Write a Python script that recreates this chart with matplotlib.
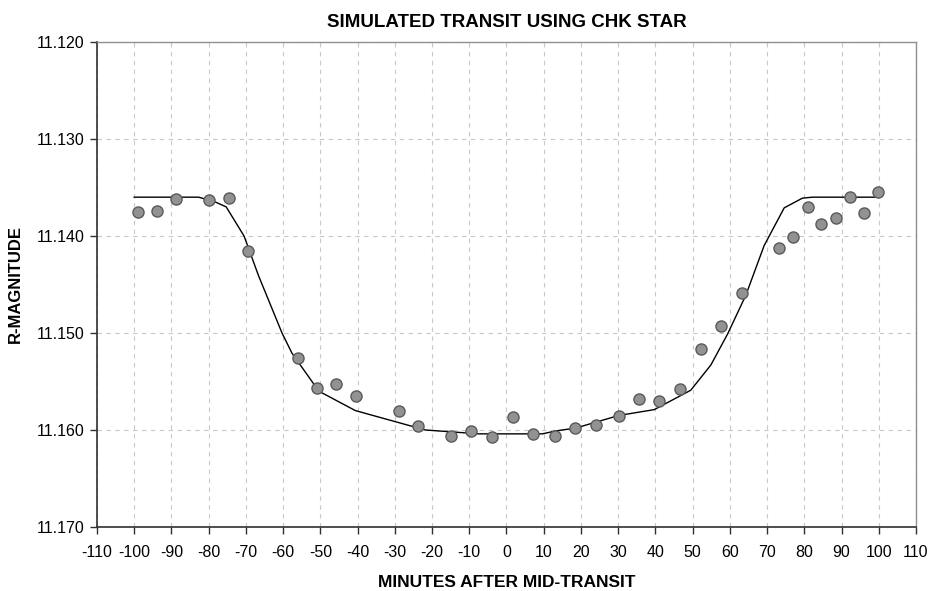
import matplotlib
matplotlib.use("Agg")
import matplotlib.pyplot as plt
import numpy as np

plt.rcParams['font.family'] = ['Liberation Sans', 'DejaVu Sans']

# observed R-magnitudes vs minutes after mid-transit
obs_min = [-99.1, -93.9, -88.7, -79.8, -74.6, -69.4, -56.1, -50.9, -45.7, -40.5,
           -28.9, -23.8, -14.8, -9.5, -3.8, 1.8, 7.2, 13.0, 18.5, 24.0,
           30.1, 35.6, 41.0, 46.5, 52.3, 57.7, 63.3, 73.3, 77.0, 80.9,
           84.6, 88.4, 92.4, 95.9, 99.7]
obs_mag = [11.1375, 11.1374, 11.1362, 11.1363, 11.1361, 11.1415, 11.1526, 11.1557, 11.1553, 11.1565,
           11.1580, 11.1596, 11.1606, 11.1601, 11.1607, 11.1587, 11.1604, 11.1606, 11.1598, 11.1595,
           11.1586, 11.1568, 11.1570, 11.1558, 11.1517, 11.1493, 11.1459, 11.1412, 11.1401, 11.1370,
           11.1388, 11.1381, 11.1360, 11.1376, 11.1355]

# model light curve
model_min = [-100.0, -82.7, -78.2, -75.3, -70.5, -66.6, -60.3, -57.6, -50.4, -40.6,
             -21.8, -7.4, 9.6, 13.2, 18.6, 30.2, 39.7, 49.5, 54.9, 59.4,
             64.3, 69.2, 74.6, 79.5, 82.2, 99.7]
model_mag = [11.1360, 11.1360, 11.1365, 11.1370, 11.1400, 11.1441, 11.1500, 11.1521, 11.1560, 11.1580,
             11.1600, 11.1604, 11.1604, 11.1601, 11.1598, 11.1585, 11.1579, 11.1559, 11.1533, 11.1501,
             11.1461, 11.1410, 11.1371, 11.1361, 11.1360, 11.1360]

x_ticks = np.arange(-110, 111, 10)
y_ticks = [11.120, 11.130, 11.140, 11.150, 11.160, 11.170]

fig = plt.figure(figsize=(9.29, 5.91), dpi=100)
ax = fig.add_axes([0.1044, 0.1083, 0.8816, 0.8207])

ax.plot(model_min, model_mag, color='black', lw=1.0, zorder=2)
ax.plot(obs_min, obs_mag, 'o', ms=8, mfc='#929292', mec='#5a5a5a', mew=1.0, zorder=3)

ax.set_xlim(-110, 110)
ax.set_ylim(11.170, 11.120)
ax.set_xticks(x_ticks)
ax.set_xticklabels([str(t) for t in x_ticks])
ax.set_yticks(y_ticks)
ax.set_yticklabels([f"{t:.3f}" for t in y_ticks])

ax.grid(True, color='#c8c8c8', linestyle=(0, (4, 4)), lw=0.8)
ax.tick_params(axis='both', labelsize=11.5, length=5, width=1, color='#303030', pad=4)
ax.tick_params(axis='x', pad=8)

for side in ['left', 'bottom']:
    ax.spines[side].set_color('#303030')
    ax.spines[side].set_linewidth(1.2)
for side in ['top', 'right']:
    ax.spines[side].set_color('#909090')
    ax.spines[side].set_linewidth(1.0)

ax.set_title("SIMULATED TRANSIT USING CHK STAR", fontsize=13.5, fontweight='bold', pad=11)
ax.set_xlabel("MINUTES AFTER MID-TRANSIT", fontsize=12.5, fontweight='bold', labelpad=11)
ax.set_ylabel("R-MAGNITUDE", fontsize=12, fontweight='bold', labelpad=10)

fig.savefig("out.png", dpi=100)
